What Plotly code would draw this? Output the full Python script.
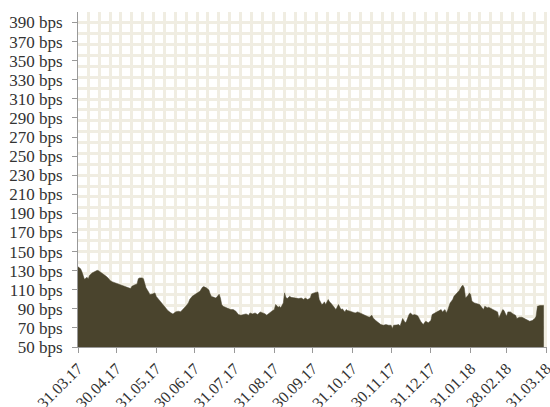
import plotly.graph_objects as go

dates = [
    "2017-03-31", "2017-04-02", "2017-04-03", "2017-04-05", "2017-04-06", "2017-04-07", "2017-04-08",
    "2017-04-09", "2017-04-11", "2017-04-13", "2017-04-15", "2017-04-16", "2017-04-18", "2017-04-20",
    "2017-04-22", "2017-04-24", "2017-04-25", "2017-04-27", "2017-04-29", "2017-05-01", "2017-05-03",
    "2017-05-05", "2017-05-07", "2017-05-08", "2017-05-10", "2017-05-11", "2017-05-12", "2017-05-13",
    "2017-05-14", "2017-05-16", "2017-05-17", "2017-05-18", "2017-05-20", "2017-05-21", "2017-05-22",
    "2017-05-23", "2017-05-25", "2017-05-26", "2017-05-28", "2017-05-30", "2017-05-31", "2017-06-02",
    "2017-06-03", "2017-06-05", "2017-06-07", "2017-06-09", "2017-06-11", "2017-06-13", "2017-06-15",
    "2017-06-17", "2017-06-19", "2017-06-20", "2017-06-22", "2017-06-23", "2017-06-25", "2017-06-26",
    "2017-06-28", "2017-07-01", "2017-07-02", "2017-07-04", "2017-07-06", "2017-07-07", "2017-07-09",
    "2017-07-11", "2017-07-12", "2017-07-13", "2017-07-15", "2017-07-16", "2017-07-17", "2017-07-19",
    "2017-07-20", "2017-07-21", "2017-07-22", "2017-07-24", "2017-07-26", "2017-07-28", "2017-07-30",
    "2017-08-01", "2017-08-03", "2017-08-05", "2017-08-07", "2017-08-09", "2017-08-11", "2017-08-12",
    "2017-08-14", "2017-08-16", "2017-08-18", "2017-08-20", "2017-08-22", "2017-08-24", "2017-08-25",
    "2017-08-27", "2017-08-29", "2017-08-31", "2017-09-01", "2017-09-03", "2017-09-04", "2017-09-05",
    "2017-09-07", "2017-09-08", "2017-09-09", "2017-09-10", "2017-09-12", "2017-09-13", "2017-09-15",
    "2017-09-17", "2017-09-19", "2017-09-21", "2017-09-23", "2017-09-24", "2017-09-26", "2017-09-28",
    "2017-09-29", "2017-10-01", "2017-10-03", "2017-10-04", "2017-10-05", "2017-10-07", "2017-10-08",
    "2017-10-09", "2017-10-10", "2017-10-12", "2017-10-13", "2017-10-14", "2017-10-16", "2017-10-17",
    "2017-10-18", "2017-10-20", "2017-10-21", "2017-10-22", "2017-10-23", "2017-10-25", "2017-10-26",
    "2017-10-27", "2017-10-29", "2017-10-31", "2017-11-02", "2017-11-04", "2017-11-06", "2017-11-08",
    "2017-11-10", "2017-11-12", "2017-11-13", "2017-11-15", "2017-11-16", "2017-11-18", "2017-11-20",
    "2017-11-22", "2017-11-24", "2017-11-26", "2017-11-28", "2017-11-30", "2017-12-01", "2017-12-02",
    "2017-12-04", "2017-12-06", "2017-12-07", "2017-12-08", "2017-12-09", "2017-12-11", "2017-12-12",
    "2017-12-14", "2017-12-15", "2017-12-17", "2017-12-18", "2017-12-20", "2017-12-21", "2017-12-23",
    "2017-12-25", "2017-12-26", "2017-12-27", "2017-12-29", "2017-12-31", "2018-01-01", "2018-01-03",
    "2018-01-05", "2018-01-06", "2018-01-08", "2018-01-09", "2018-01-11", "2018-01-12", "2018-01-13",
    "2018-01-15", "2018-01-17", "2018-01-18", "2018-01-20", "2018-01-22", "2018-01-24", "2018-01-25",
    "2018-01-26", "2018-01-27", "2018-01-29", "2018-01-30", "2018-01-31", "2018-02-01", "2018-02-03",
    "2018-02-05", "2018-02-07", "2018-02-08", "2018-02-10", "2018-02-11", "2018-02-13", "2018-02-14",
    "2018-02-16", "2018-02-17", "2018-02-19", "2018-02-21", "2018-02-22", "2018-02-24", "2018-02-25",
    "2018-02-26", "2018-02-28", "2018-03-01", "2018-03-03", "2018-03-05", "2018-03-07", "2018-03-08",
    "2018-03-10", "2018-03-12", "2018-03-14", "2018-03-16", "2018-03-18", "2018-03-20", "2018-03-22",
    "2018-03-23", "2018-03-24", "2018-03-26", "2018-03-27", "2018-03-29",
]

spread_bps = [
    134, 132, 129, 121, 122, 123, 121.6,
    125, 127.6, 129.3, 130.3, 130, 128.2, 126.6,
    124, 121.6, 119.6, 118.2, 117.2, 116.1, 114.7,
    113.6, 113.3, 112.6, 111.9, 111.2, 113.6, 114.7,
    115, 116, 121.6, 122.4, 122.4, 121.6, 117,
    112, 107.7, 105, 105.6, 106.7, 103, 99.7,
    97.9, 95.2, 91.6, 88.2, 86.1, 84.5, 86.8,
    87.5, 87, 88.2, 91, 92.7, 96.2, 99.7,
    103.1, 105.6, 106.7, 108.4, 112.6, 113.3, 112,
    109.8, 105.6, 103, 102, 101.4, 102, 105.3,
    101.4, 94.5, 92.7, 91.6, 90.3, 89.2, 89.2,
    87.5, 84, 83.3, 84, 84.7, 83.3, 85.7,
    84.7, 85.7, 84, 86.8, 85.7, 84.7, 83.3,
    85.7, 87.5, 89.2, 94.5, 91.6, 92.7, 91,
    96.2, 106.7, 102, 100.7, 103.1, 102, 101.4,
    101.4, 100.7, 101.4, 99.7, 101.4, 99.7, 101.4,
    105.6, 106.7, 107.7, 107.7, 99.7, 94.5, 95.2,
    97.3, 94.5, 99.7, 97.3, 96.2, 92.7, 91,
    89.2, 94.5, 91, 89.2, 90, 86.8, 89.2,
    88.2, 87.5, 86.8, 85.7, 86.8, 85.7, 84,
    83.3, 82.2, 81.2, 83.3, 80.5, 77.7, 75.3,
    73.5, 72.8, 73.5, 72.8, 72.8, 69.4, 72.8,
    73, 73.5, 72, 77, 79.8, 75.3, 77,
    84, 85.7, 83.3, 84, 83.3, 82.2, 77,
    73.5, 75.3, 77, 75.3, 77.7, 84, 85.7,
    86.8, 88.2, 89.2, 86.8, 89.2, 85.7, 88.2,
    96.2, 99.7, 103.1, 105.6, 109, 113.6, 114.7,
    112, 101.4, 104.2, 106.7, 105, 97.9, 96.2,
    95.2, 94.5, 92.7, 89.2, 92.7, 91, 91.6,
    90.3, 89.2, 88.2, 86.8, 80.5, 85.7, 89.2,
    88.2, 82.2, 86.8, 86.8, 84.7, 83.3, 79.8,
    81.2, 81.2, 79.8, 77.7, 77, 77.7, 79.8,
    82.2, 92.7, 93.4, 93.4, 93.4,
]

tick_dates = ["2017-03-31", "2017-04-30", "2017-05-31", "2017-06-30", "2017-07-31", "2017-08-31",
              "2017-09-30", "2017-10-31", "2017-11-30", "2017-12-31", "2018-01-31", "2018-02-28",
              "2018-03-31"]
tick_labels = ["31.03.17", "30.04.17", "31.05.17", "30.06.17", "31.07.17", "31.08.17",
               "30.09.17", "31.10.17", "30.11.17", "31.12.17", "31.01.18", "28.02.18", "31.03.18"]

y_tickvals = list(range(50, 391, 20))
y_ticktext = [f"{v} bps" for v in y_tickvals]

fill_color = "#4a442d"
grid_color = "#f0ede2"
font_family = "Liberation Serif, Times New Roman, serif"

fig = go.Figure()
fig.add_trace(go.Scatter(
    x=dates, y=spread_bps, mode="lines", fill="tozeroy",
    line=dict(color=fill_color, width=0.5), fillcolor=fill_color,
    hoverinfo="skip", showlegend=False,
))

DAY_MS = 86400000
fig.update_layout(
    width=550, height=407,
    margin=dict(l=78, r=3, t=12, b=60),
    paper_bgcolor="white", plot_bgcolor="white",
    font=dict(family=font_family, size=17, color="#333333"),
    showlegend=False,
    xaxis=dict(
        type="date",
        range=["2017-03-31", "2018-03-31 12:00"],
        tickvals=tick_dates, ticktext=tick_labels,
        tickangle=-45,
        tickfont=dict(size=16),
        ticklabeloverflow="allow",
        ticks="outside", ticklen=5, tickcolor="#999999", tickwidth=1,
        showline=True, linecolor="#999999", linewidth=1,
        showgrid=False, zeroline=False,
        automargin=False,
        minor=dict(showgrid=True, gridcolor=grid_color, gridwidth=3,
                   tick0="2017-04-08", dtick=8.48 * DAY_MS, ticks=""),
        fixedrange=True,
    ),
    yaxis=dict(
        range=[50, 401],
        tickvals=y_tickvals, ticktext=y_ticktext,
        ticks="outside", ticklen=5, tickcolor="#999999", tickwidth=1,
        ticklabelstandoff=6,
        showline=True, linecolor="#999999", linewidth=1,
        showgrid=False, zeroline=False,
        automargin=False,
        minor=dict(showgrid=True, gridcolor=grid_color, gridwidth=3,
                   tick0=401, dtick=11.4, ticks=""),
        fixedrange=True,
    ),
)

fig.write_html(
    "out.html",
    config={"displayModeBar": False},
    post_script="document.body.style.margin='0';document.body.style.overflow='hidden';",
)
